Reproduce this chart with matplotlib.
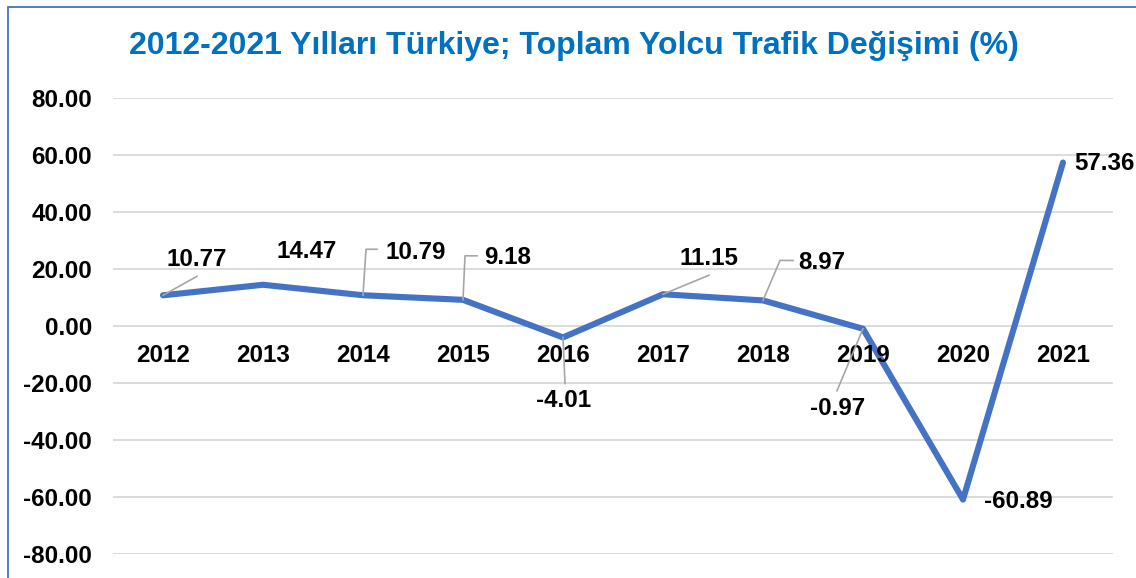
import matplotlib
matplotlib.use("Agg")
import matplotlib.pyplot as plt
from matplotlib.patches import Rectangle
from matplotlib.transforms import offset_copy

years = ["2012", "2013", "2014", "2015", "2016", "2017", "2018", "2019", "2020", "2021"]
values = [10.77, 14.47, 10.79, 9.18, -4.01, 11.15, 8.97, -0.97, -60.89, 57.36]
labels = ["10.77", "14.47", "10.79", "9.18", "-4.01", "11.15", "8.97", "-0.97", "-60.89", "57.36"]
yticks = [80, 60, 40, 20, 0, -20, -40, -60, -80]
title = "2012-2021 Yılları Türkiye; Toplam Yolcu Trafik Değişimi (%)"

# label offsets (pixels, relative to data point; +y = up)
label_off = [(34, 36), (44, 33), (53, 43), (45, 42), (1, -63),
             (46, 36), (59, 38), (-25, -80), (55, -2), (41, -1)]
leaders = [[(0, 0), (34, 19)], None, [(0, 0), (3, 46), (14, 46)],
           [(0, 0), (2, 44), (14, 44)], [(0, 0), (2, -46)],
           [(0, 0), (46, 19)], [(0, 0), (17, 40), (30, 40)],
           [(0, 0), (-26, -62)], None, None]

plt.rcParams['font.family'] = ['Liberation Sans', 'DejaVu Sans']
W, H = 1136, 578
fig = plt.figure(figsize=(W / 100, H / 100), dpi=100)
ax = fig.add_axes([113 / W, (H - 554) / H, 1000 / W, 456 / H])

x = list(range(len(years)))
ax.plot(x, values, color='#4472C4', lw=4.4, solid_joinstyle='round',
        solid_capstyle='round', zorder=3)
ax.set_xlim(-0.5, len(years) - 0.5)
ax.set_ylim(-80, 80)
ax.set_yticks(yticks)
ax.set_yticklabels([f"{v:.2f}" for v in yticks], fontsize=17.4, fontweight='bold')
ax.tick_params(axis='y', length=0, pad=15)
ax.set_xticks([])
ax.grid(axis='y', color='#D9D9D9', lw=1.3)
ax.set_axisbelow(True)
for s in ax.spines.values():
    s.set_visible(False)

px = 72 / 100
for i, y in enumerate(years):
    ax.annotate(y, (i, 0), xytext=(0, -29 * px), textcoords='offset points',
                ha='center', va='center', fontsize=17.4, fontweight='bold')

for i, (v, lab) in enumerate(zip(values, labels)):
    dx, dy = label_off[i]
    ax.annotate(lab, (i, v), xytext=(dx * px, dy * px), textcoords='offset points',
                ha='center', va='center', fontsize=17.4, fontweight='bold', zorder=5)
    if leaders[i] is not None:
        xs, ys = [], []
        for (ox, oy) in leaders[i]:
            t = offset_copy(ax.transData, fig=fig, x=ox, y=oy, units='dots')
            p = t.transform((i, v))
            xs.append(p[0]); ys.append(p[1])
        ax.plot(xs, ys, color='#A6A6A6', lw=1.2, transform=None, zorder=4)

fig.text(574 / W, 1 - 46 / H, title, ha='center', va='center', fontsize=23,
         fontweight='bold', color='#0070C0')

fig.patches.append(Rectangle((7.5 / W, -0.1), 1.2, 1 - 7.5 / H + 0.1,
                             transform=fig.transFigure, fill=False,
                             edgecolor='#4472C4', lw=1.3))

fig.savefig('out.png', dpi=100)
